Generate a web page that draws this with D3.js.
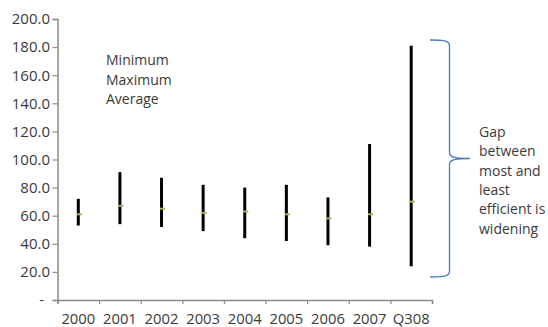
<!DOCTYPE html>
<html>
<head>
<meta charset="utf-8">
<script src="https://cdn.jsdelivr.net/npm/d3@7"></script>
<style>
  html, body { margin: 0; padding: 0; background: #fff; }
  svg { display: block; font-family: "Open Sans", sans-serif; }
</style>
</head>
<body>
<svg id="chart" width="548" height="327"></svg>
<script>
// Yearly spread: minimum, maximum and average
const categories = ["2000", "2001", "2002", "2003", "2004", "2005", "2006", "2007", "Q308"];
const minimum = [53, 54, 52, 49, 44, 42, 39, 38, 24];
const maximum = [72, 91, 87, 82, 80, 82, 73, 111, 181];
const average = [61, 67, 65, 62, 63, 61, 58, 61, 70];
const yTicks = [0, 20, 40, 60, 80, 100, 120, 140, 160, 180, 200];
const legendLines = ["Minimum", "Maximum", "Average"];
const noteLines = ["Gap", "between", "most and", "least", "efficient is", "widening"];

const svg = d3.select("#chart");
const axisColor = "#8a8a8a";
const textColor = "#3a3a3a";

const x = d3.scaleBand().domain(categories).range([57.5, 432]).paddingInner(0).paddingOuter(0);
const xEdge = d3.scaleLinear().domain([0, categories.length]).range([57.5, 432]);
const y = d3.scaleLinear().domain([0, 200]).range([300, 19]);

// y axis
const yAxis = svg.append("g")
  .attr("transform", "translate(57.5,0)")
  .call(d3.axisLeft(y).tickValues(yTicks).tickSize(5).tickPadding(2.5)
    .tickFormat(d => d === 0 ? "-" : d3.format(".1f")(d)));
yAxis.select(".domain").attr("stroke", axisColor).attr("stroke-width", 1.5);
yAxis.selectAll(".tick line").attr("stroke", axisColor).attr("stroke-width", 1.2);
yAxis.selectAll(".tick text").attr("fill", textColor).style("font-size", "15px")
  .attr("font-family", "Open Sans, sans-serif");
yAxis.selectAll(".tick").filter(d => d === 0).select("text").attr("dx", -6);

// x axis: tick marks at category boundaries
const xAxis = svg.append("g")
  .attr("transform", "translate(0,300)")
  .call(d3.axisBottom(xEdge).tickValues(d3.range(categories.length + 1)).tickSize(4).tickFormat(""));
xAxis.select(".domain").attr("stroke", axisColor).attr("stroke-width", 1.5);
xAxis.selectAll(".tick line").attr("stroke", axisColor).attr("stroke-width", 1.2);

// x labels at category centres
svg.append("g").selectAll("text").data(categories).join("text")
  .attr("x", d => x(d) + x.bandwidth() / 2)
  .attr("y", 323.5)
  .attr("text-anchor", "middle")
  .attr("fill", textColor)
  .style("font-size", "14.8px")
  .text(d => d);

// min-max range lines
const rows = categories.map((c, i) => ({ c, lo: minimum[i], hi: maximum[i], avg: average[i] }));
svg.append("g").selectAll("line").data(rows).join("line")
  .attr("x1", d => x(d.c) + x.bandwidth() / 2)
  .attr("x2", d => x(d.c) + x.bandwidth() / 2)
  .attr("y1", d => y(d.hi))
  .attr("y2", d => y(d.lo))
  .attr("stroke", "#000")
  .attr("stroke-width", 3);

// average markers
svg.append("g").selectAll("rect").data(rows).join("rect")
  .attr("x", d => x(d.c) + x.bandwidth() / 2 - 1.5)
  .attr("y", d => y(d.avg) - 1)
  .attr("width", 5)
  .attr("height", 2)
  .attr("fill", "#9bbb59");

// legend text
svg.append("g").selectAll("text").data(legendLines).join("text")
  .attr("x", 106)
  .attr("y", (d, i) => 65 + i * 19.5)
  .attr("fill", textColor)
  .style("font-size", "14px")
  .text(d => d);

// brace spanning the Q308 range
const bx = 430, by0 = 40, by1 = 277, bMid = 158.5, bIn = 449.5, bTip = 470;
const brace = d3.path();
brace.moveTo(bx, by0);
brace.bezierCurveTo(bIn - 4, by0, bIn, by0 + 1, bIn, by0 + 6);
brace.lineTo(bIn, bMid - 6);
brace.bezierCurveTo(bIn, bMid - 1, bIn + 6, bMid, bTip, bMid);
brace.moveTo(bTip, bMid);
brace.bezierCurveTo(bIn + 6, bMid, bIn, bMid + 1, bIn, bMid + 6);
brace.lineTo(bIn, by1 - 6);
brace.bezierCurveTo(bIn, by1 - 1, bIn - 4, by1, bx, by1);
svg.append("path")
  .attr("d", brace.toString())
  .attr("fill", "none")
  .attr("stroke", "#4a7ebb")
  .attr("stroke-width", 1.3);

// annotation
svg.append("g").selectAll("text").data(noteLines).join("text")
  .attr("x", 479)
  .attr("y", (d, i) => 137 + i * 19.3)
  .attr("fill", textColor)
  .style("font-size", "14px")
  .text(d => d);
</script>
</body>
</html>
